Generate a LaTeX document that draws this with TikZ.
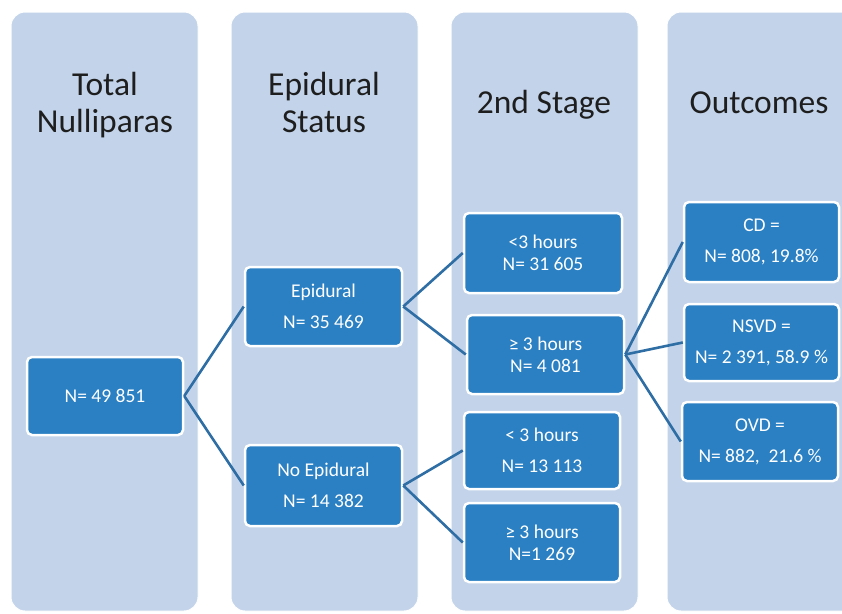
\documentclass[tikz,border=0pt]{standalone}
\usepackage{fontspec}
\setmainfont{Carlito}
\definecolor{colbg}{RGB}{194,211,234}
\definecolor{boxbg}{RGB}{42,128,195}
\definecolor{linec}{RGB}{46,110,165}
\definecolor{titlec}{RGB}{30,30,30}
\tikzset{
  colbox/.style={fill=colbg, draw=white, line width=1pt, rounded corners=14pt},
  bx/.style={fill=boxbg, draw=white, line width=2.5pt, rounded corners=5pt, text=white,
    align=center, inner sep=0pt, font=\fontsize{19.5}{31}\selectfont},
  tight/.style={font=\fontsize{19.5}{22}\selectfont},
  link/.style={draw=linec, line width=2.6pt},
  ttl/.style={font=\fontsize{33.5}{37}\selectfont, text=titlec, align=center, inner sep=0pt}
}
\begin{document}
\begin{tikzpicture}[x=1pt,y=-1pt]
\useasboundingbox (0,0) rectangle (842,613);
\clip (0,0) rectangle (842,613);
\fill[white] (0,0) rectangle (842,613);
% columns
\draw[colbox] (11,12) rectangle (198,611);
\draw[colbox] (231,12) rectangle (418,611);
\draw[colbox] (451,12) rectangle (638,611);
\draw[colbox] (667,12) rectangle (856,611);
% titles
\node[ttl, anchor=north] (t1) at (105,72) {Total\\Nulliparas};
\node[ttl, anchor=north] (t2) at (324,72) {Epidural\\Status};
\node[ttl, anchor=base] (t3) at (544,113) {2nd Stage};
\node[ttl, anchor=base] (t4) at (759,113) {Outcomes};
% boxes
\node[bx, minimum width=156, minimum height=78] (root) at (105,396) {N= 49 851};
\node[bx, minimum width=157, minimum height=79] (epi) at (323.5,306.5) {Epidural\\N= 35 469};
\node[bx, minimum width=157, minimum height=81] (noepi) at (323.5,485.5) {No Epidural\\N= 14 382};
\node[bx, tight, minimum width=158, minimum height=80] (e1) at (543,253) {<3 hours\\N= 31 605};
\node[bx, tight, minimum width=157, minimum height=79] (e2) at (545.5,354.5) {≥ 3 hours\\N= 4 081};
\node[bx, minimum width=156, minimum height=77] (n1) at (542,450.5) {< 3 hours\\N= 13 113};
\node[bx, tight, minimum width=156, minimum height=79] (n2) at (542,542.5) {≥ 3 hours\\N=1 269};
\node[bx, minimum width=155, minimum height=80] (cd) at (761.5,242) {CD =\\N= 808, 19.8\%};
\node[bx, minimum width=155, minimum height=77] (nsvd) at (761.5,342.5) {NSVD =\\N= 2 391, 58.9 \%};
\node[bx, minimum width=156, minimum height=79] (ovd) at (760,441.5) {OVD =\\N= 882, \ 21.6 \%};
% connectors
\draw[link] (root.east) -- (epi.west);
\draw[link] (root.east) -- (noepi.west);
\draw[link] (epi.east) -- (e1.west);
\draw[link] (epi.east) -- (e2.west);
\draw[link] (noepi.east) -- (n1.west);
\draw[link] (noepi.east) -- (n2.west);
\draw[link] (e2.east) -- (cd.west);
\draw[link] (e2.east) -- (nsvd.west);
\draw[link] (e2.east) -- (ovd.west);
\end{tikzpicture}
\end{document}
